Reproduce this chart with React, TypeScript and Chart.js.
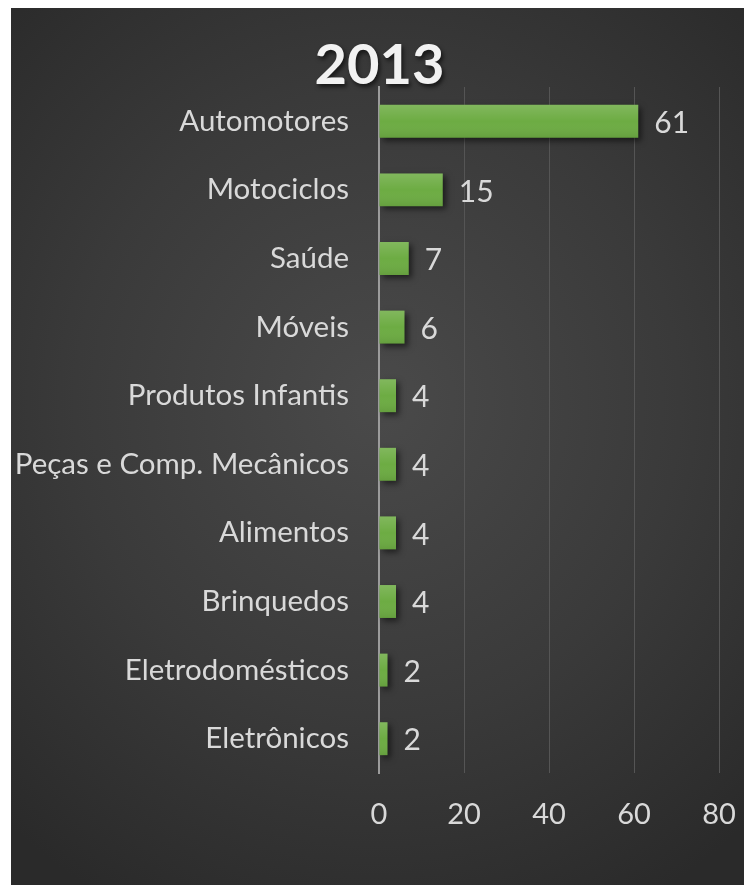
import React, { useEffect, useRef } from "react";
import { Chart, registerables } from "chart.js";

Chart.register(...registerables);

const titleText = "2013";
const categories = [
  "Automotores",
  "Motociclos",
  "Saúde",
  "Móveis",
  "Produtos Infantis",
  "Peças e Comp. Mecânicos",
  "Alimentos",
  "Brinquedos",
  "Eletrodomésticos",
  "Eletrônicos",
];
const values = [61, 15, 7, 6, 4, 4, 4, 4, 2, 2];
const xTicks = [0, 20, 40, 60, 80];

const FONT = "Lato, 'Open Sans', sans-serif";
const TEXT = "#d9d9d9";

const barStylePlugin = {
  id: "barStyle",
  beforeDatasetDraw(chart: any) {
    const ctx = chart.ctx;
    ctx.save();
    ctx.shadowColor = "rgba(0,0,0,0.55)";
    ctx.shadowBlur = 6;
    ctx.shadowOffsetX = 3;
    ctx.shadowOffsetY = 3;
  },
  afterDatasetDraw(chart: any) {
    const ctx = chart.ctx;
    ctx.restore();
    const meta = chart.getDatasetMeta(0);
    meta.data.forEach((bar: any) => {
      const top = bar.y - bar.height / 2;
      const g = ctx.createLinearGradient(0, top, 0, top + bar.height);
      g.addColorStop(0, "rgba(255,255,255,0.14)");
      g.addColorStop(0.5, "rgba(255,255,255,0)");
      g.addColorStop(1, "rgba(0,0,0,0.08)");
      ctx.save();
      ctx.fillStyle = g;
      ctx.fillRect(bar.base, top, bar.x - bar.base, bar.height);
      ctx.restore();
    });
    // value labels
    ctx.save();
    ctx.font = `30px ${FONT}`;
    ctx.fillStyle = TEXT;
    ctx.textAlign = "left";
    ctx.textBaseline = "middle";
    meta.data.forEach((bar: any, i: number) => {
      ctx.fillText(String(values[i]), bar.x + 16, bar.y + 2);
    });
    ctx.restore();
  },
};

const titlePlugin = {
  id: "titleDraw",
  afterDraw(chart: any) {
    const ctx = chart.ctx;
    ctx.save();
    ctx.font = `bold 56px ${FONT}`;
    ctx.fillStyle = "#f2f2f2";
    ctx.textAlign = "center";
    ctx.textBaseline = "middle";
    ctx.shadowColor = "rgba(0,0,0,0.6)";
    ctx.shadowBlur = 4;
    ctx.shadowOffsetX = 2;
    ctx.shadowOffsetY = 3;
    ctx.fillText(titleText, chart.width / 2 + 2, 58);
    ctx.restore();
  },
};

export default function App() {
  const ref = useRef<HTMLCanvasElement>(null);
  useEffect(() => {
    if (!ref.current) return;
    const chart = new Chart(ref.current, {
      type: "bar",
      data: {
        labels: categories,
        datasets: [
          {
            data: values,
            backgroundColor: "#6dac43",
            borderWidth: 0,
            categoryPercentage: 1,
            barPercentage: 0.48,
          },
        ],
      },
      options: {
        indexAxis: "y",
        animation: false,
        responsive: false,
        maintainAspectRatio: false,
        layout: { padding: { top: 79, right: 25, left: 0, bottom: 0 } },
        plugins: {
          legend: { display: false },
          title: { display: false },
          tooltip: { enabled: false },
        },
        scales: {
          x: {
            min: 0,
            max: 80,
            afterBuildTicks(scale: any) {
              scale.ticks = xTicks.map((v) => ({ value: v }));
            },
            afterFit(scale: any) {
              scale.height = 112;
              scale.paddingLeft = 0;
              scale.paddingRight = 0;
            },
            grid: { color: "#555555", lineWidth: 1, drawTicks: false },
            border: { display: false },
            ticks: {
              color: TEXT,
              font: { family: FONT, size: 29 },
              padding: 24,
            },
          },
          y: {
            afterFit(scale: any) {
              scale.width = 368;
              scale.paddingTop = 0;
              scale.paddingBottom = 0;
            },
            grid: { display: false, drawTicks: false },
            border: { display: true, color: "#9c9c9c", width: 2 },
            ticks: {
              color: TEXT,
              font: { family: FONT, size: 29.5 },
              padding: 30,
              autoSkip: false,
            },
          },
        },
      },
      plugins: [barStylePlugin, titlePlugin],
    });
    return () => chart.destroy();
  }, []);

  return (
    <div
      style={{
        position: "absolute",
        left: 11,
        top: 8,
        width: 733,
        height: 877,
        background:
          "radial-gradient(ellipse 75% 65% at 50% 45%, #4a4a4a 0%, #3a3a3a 55%, #2a2a2a 100%)",
        overflow: "hidden",
      }}
    >
      <canvas ref={ref} width={733} height={877} style={{ display: "block" }} />
    </div>
  );
}
